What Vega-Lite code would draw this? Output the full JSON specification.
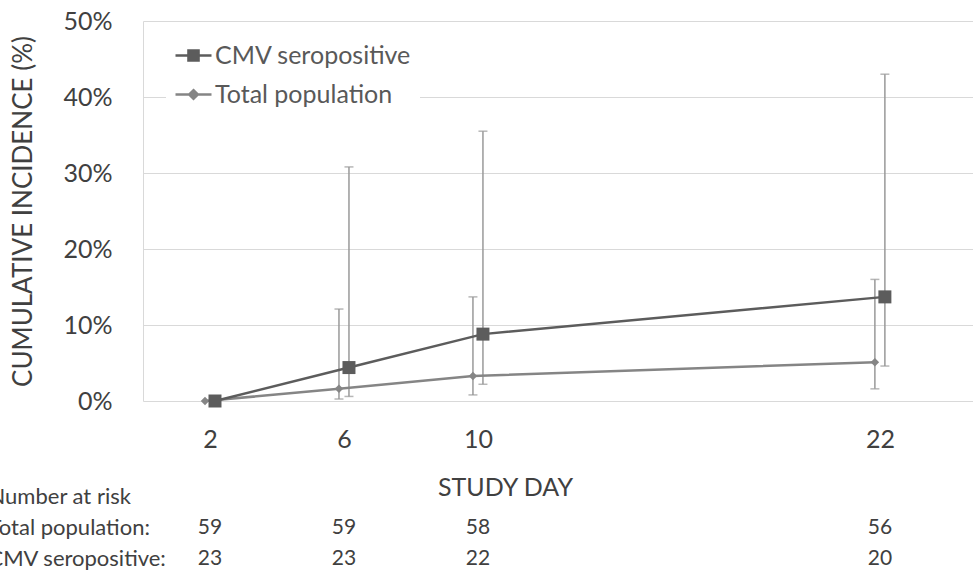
{
  "$schema": "https://vega.github.io/schema/vega-lite/v6.json",
  "padding": {"left": -12, "top": 9, "right": 0, "bottom": 0},
  "background": "white",
  "spacing": 23,
  "config": {"view": {"stroke": null}, "font": "Lato"},
  "datasets": {
    "incidence": [
      {"day": 2, "series": "CMV seropositive", "value": 0, "lo": null, "hi": null},
      {"day": 6, "series": "CMV seropositive", "value": 4.4, "lo": 0.6, "hi": 30.8},
      {"day": 10, "series": "CMV seropositive", "value": 8.8, "lo": 2.2, "hi": 35.5},
      {"day": 22, "series": "CMV seropositive", "value": 13.7, "lo": 4.6, "hi": 43.0},
      {"day": 2, "series": "Total population", "value": 0, "lo": null, "hi": null},
      {"day": 6, "series": "Total population", "value": 1.6, "lo": 0.26, "hi": 12.1},
      {"day": 10, "series": "Total population", "value": 3.3, "lo": 0.8, "hi": 13.7},
      {"day": 22, "series": "Total population", "value": 5.1, "lo": 1.6, "hi": 16.0}
    ],
    "risk": [
      {"day": 2, "row": "Total population:", "n": "59"},
      {"day": 6, "row": "Total population:", "n": "59"},
      {"day": 10, "row": "Total population:", "n": "58"},
      {"day": 22, "row": "Total population:", "n": "56"},
      {"day": 2, "row": "CMV seropositive:", "n": "23"},
      {"day": 6, "row": "CMV seropositive:", "n": "23"},
      {"day": 10, "row": "CMV seropositive:", "n": "22"},
      {"day": 22, "row": "CMV seropositive:", "n": "20"}
    ]
  },
  "vconcat": [
    {
      "width": 830,
      "height": 380,
      "data": {"name": "incidence"},
      "encoding": {
        "x": {
          "field": "day", "type": "quantitative",
          "scale": {"domain": [0, 24.78], "nice": false, "zero": false},
          "axis": {
            "values": [2, 6, 10, 22], "title": null,
            "labelFontSize": 25, "labelColor": "#404040", "labelFont": "Lato",
            "labelPadding": 26, "ticks": false, "tickSize": 0, "domain": false, "grid": false
          }
        }
      },
      "layer": [
        {
          "transform": [{"filter": "datum.hi != null && datum.series == 'Total population'"}],
          "mark": {"type": "rule", "color": "#999999", "strokeWidth": 1.5, "xOffset": -5},
          "encoding": {
            "y": {
              "field": "lo", "type": "quantitative", "title": "CUMULATIVE  INCIDENCE (%)",
              "scale": {"domain": [0, 50], "nice": false},
              "axis": {
                "values": [0, 10, 20, 30, 40, 50], "labelExpr": "datum.value + '%'",
                "grid": true, "gridColor": "#d9d9d9", "gridWidth": 1,
                "domain": true, "domainColor": "#d9d9d9", "ticks": false, "tickSize": 0,
                "labelPadding": 31, "labelFontSize": 25, "labelColor": "#404040", "labelFont": "Lato",
                "titleFontSize": 26, "titleFontWeight": "normal", "titleColor": "#404040", "titleFont": "Lato",
                "titlePadding": 26
              }
            },
            "y2": {"field": "hi"}
          }
        },
        {
          "transform": [{"filter": "datum.hi != null && datum.series == 'CMV seropositive'"}],
          "mark": {"type": "rule", "color": "#999999", "strokeWidth": 1.5, "xOffset": 5},
          "encoding": {
            "y": {"field": "lo", "type": "quantitative", "title": "CUMULATIVE  INCIDENCE (%)", "scale": {"domain": [0, 50], "nice": false}},
            "y2": {"field": "hi"}
          }
        },
        {
          "transform": [{"filter": "datum.hi != null && datum.series == 'Total population'"}],
          "mark": {"type": "tick", "orient": "horizontal", "color": "#999999", "size": 9, "thickness": 1.5, "xOffset": -5},
          "encoding": {"y": {"field": "hi", "type": "quantitative", "title": "CUMULATIVE  INCIDENCE (%)", "scale": {"domain": [0, 50], "nice": false}}}
        },
        {
          "transform": [{"filter": "datum.hi != null && datum.series == 'Total population'"}],
          "mark": {"type": "tick", "orient": "horizontal", "color": "#999999", "size": 9, "thickness": 1.5, "xOffset": -5},
          "encoding": {"y": {"field": "lo", "type": "quantitative", "title": "CUMULATIVE  INCIDENCE (%)", "scale": {"domain": [0, 50], "nice": false}}}
        },
        {
          "transform": [{"filter": "datum.hi != null && datum.series == 'CMV seropositive'"}],
          "mark": {"type": "tick", "orient": "horizontal", "color": "#999999", "size": 9, "thickness": 1.5, "xOffset": 5},
          "encoding": {"y": {"field": "hi", "type": "quantitative", "title": "CUMULATIVE  INCIDENCE (%)", "scale": {"domain": [0, 50], "nice": false}}}
        },
        {
          "transform": [{"filter": "datum.hi != null && datum.series == 'CMV seropositive'"}],
          "mark": {"type": "tick", "orient": "horizontal", "color": "#999999", "size": 9, "thickness": 1.5, "xOffset": 5},
          "encoding": {"y": {"field": "lo", "type": "quantitative", "title": "CUMULATIVE  INCIDENCE (%)", "scale": {"domain": [0, 50], "nice": false}}}
        },
        {
          "transform": [{"filter": "datum.series == 'Total population'"}],
          "mark": {"type": "line", "color": "#858585", "strokeWidth": 2.5, "xOffset": -5},
          "encoding": {"y": {"field": "value", "type": "quantitative", "title": "CUMULATIVE  INCIDENCE (%)", "scale": {"domain": [0, 50], "nice": false}}}
        },
        {
          "transform": [{"filter": "datum.series == 'CMV seropositive'"}],
          "mark": {"type": "line", "color": "#5c5c5c", "strokeWidth": 2.5, "xOffset": 5},
          "encoding": {"y": {"field": "value", "type": "quantitative", "title": "CUMULATIVE  INCIDENCE (%)", "scale": {"domain": [0, 50], "nice": false}}}
        },
        {
          "transform": [{"filter": "datum.series == 'Total population'"}],
          "mark": {"type": "point", "filled": true, "opacity": 1, "size": 72, "shape": "diamond", "color": "#858585", "xOffset": -5},
          "encoding": {"y": {"field": "value", "type": "quantitative", "title": "CUMULATIVE  INCIDENCE (%)", "scale": {"domain": [0, 50], "nice": false}}}
        },
        {
          "transform": [{"filter": "datum.series == 'CMV seropositive'"}],
          "mark": {"type": "point", "filled": true, "opacity": 1, "size": 169, "shape": "square", "color": "#5c5c5c", "xOffset": 5},
          "encoding": {"y": {"field": "value", "type": "quantitative", "title": "CUMULATIVE  INCIDENCE (%)", "scale": {"domain": [0, 50], "nice": false}}}
        },
        {
          "transform": [{"filter": "false"}],
          "mark": {"type": "point", "filled": false, "opacity": 1, "strokeWidth": 2.5},
          "encoding": {
            "y": {"field": "value", "type": "quantitative", "title": "CUMULATIVE  INCIDENCE (%)", "scale": {"domain": [0, 50], "nice": false}},
            "color": {
              "field": "series", "type": "nominal",
              "scale": {"domain": ["CMV seropositive", "Total population"], "range": ["#5c5c5c", "#858585"]},
              "legend": {
                "orient": "none", "legendX": 23, "legendY": 7, "title": null,
                "fillColor": "white", "padding": 8, "symbolSize": 1296, "rowPadding": 6,
                "symbolStrokeWidth": 2.5,
                "labelFontSize": 25, "labelFont": "Lato", "labelColor": "#595959", "labelOffset": 2, "labelLimit": 400,
                "encode": {
                  "symbols": {
                    "update": {
                      "size": {"value": 1296},
                      "fill": {"signal": "datum.value === 'CMV seropositive' ? '#5c5c5c' : '#858585'"},
                      "strokeWidth": {"value": 2.5},
                      "opacity": {"value": 1}
                    }
                  }
                }
              }
            },
            "shape": {
              "field": "series", "type": "nominal",
              "scale": {"domain": ["CMV seropositive", "Total population"], "range": ["M-1,0H1M-0.28,-0.28H0.28V0.28H-0.28ZM-0.28,-0.14H0.28M-0.28,0.14H0.28", "M-1,0H1M0,-0.24L0.24,0L0,0.24L-0.24,0ZM0,-0.24V0.24"]}
            }
          }
        }
      ]
    },
    {
      "width": 830,
      "height": 93,
      "data": {"name": "risk"},
      "mark": {"type": "text", "fontSize": 21, "font": "Lato", "color": "#404040"},
      "encoding": {
        "x": {
          "field": "day", "type": "quantitative", "scale": {"domain": [0, 24.78], "nice": false, "zero": false},
          "axis": {
            "orient": "top", "labels": false, "ticks": false, "tickSize": 0, "domain": false, "grid": false,
            "title": "STUDY DAY", "titleX": 362, "titleY": 6.5, "titleBaseline": "middle", "titleAlign": "center",
            "titleFontSize": 25, "titleFontWeight": "normal", "titleColor": "#404040", "titleFont": "Lato"
          }
        },
        "y": {
          "field": "row", "type": "nominal",
          "scale": {"type": "point", "domain": ["Number at risk", "Total population:", "CMV seropositive:"], "padding": 0.5},
          "axis": {
            "title": null, "labelAlign": "left", "labelPadding": 155, "labelFontSize": 22,
            "labelFont": "Lato", "labelColor": "#404040",
            "domain": false, "ticks": false, "tickSize": 0, "grid": false, "labelLimit": 300
          }
        },
        "text": {"field": "n", "type": "nominal"}
      }
    }
  ]
}
